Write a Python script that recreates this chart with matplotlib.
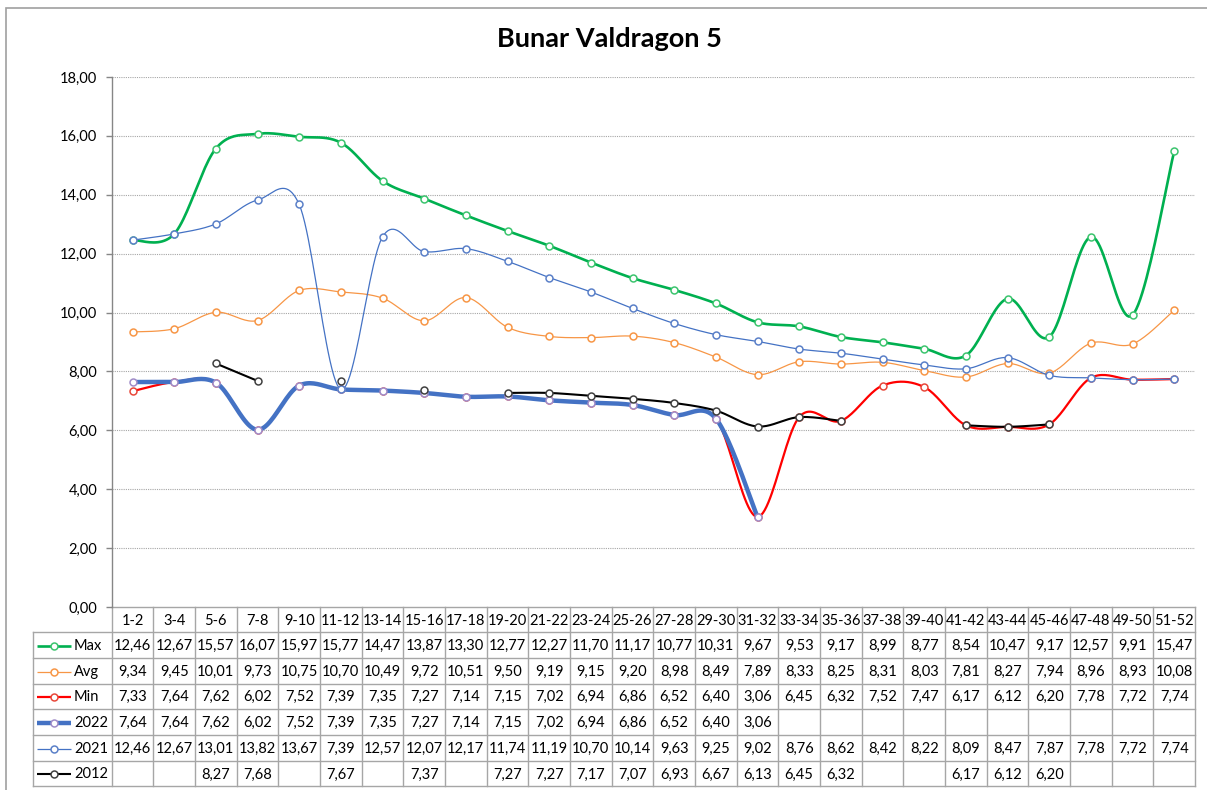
import numpy as np
import matplotlib
matplotlib.use("Agg")
import matplotlib.pyplot as plt

# ---------------- data ----------------
categories = ["1-2", "3-4", "5-6", "7-8", "9-10", "11-12", "13-14", "15-16", "17-18",
              "19-20", "21-22", "23-24", "25-26", "27-28", "29-30", "31-32", "33-34",
              "35-36", "37-38", "39-40", "41-42", "43-44", "45-46", "47-48", "49-50", "51-52"]
max_vals = [12.46, 12.67, 15.57, 16.07, 15.97, 15.77, 14.47, 13.87, 13.30, 12.77, 12.27, 11.70, 11.17,
            10.77, 10.31, 9.67, 9.53, 9.17, 8.99, 8.77, 8.54, 10.47, 9.17, 12.57, 9.91, 15.47]
avg_vals = [9.34, 9.45, 10.01, 9.73, 10.75, 10.70, 10.49, 9.72, 10.51, 9.50, 9.19, 9.15, 9.20,
            8.98, 8.49, 7.89, 8.33, 8.25, 8.31, 8.03, 7.81, 8.27, 7.94, 8.96, 8.93, 10.08]
min_vals = [7.33, 7.64, 7.62, 6.02, 7.52, 7.39, 7.35, 7.27, 7.14, 7.15, 7.02, 6.94, 6.86,
            6.52, 6.40, 3.06, 6.45, 6.32, 7.52, 7.47, 6.17, 6.12, 6.20, 7.78, 7.72, 7.74]
y2022 = [7.64, 7.64, 7.62, 6.02, 7.52, 7.39, 7.35, 7.27, 7.14, 7.15, 7.02, 6.94, 6.86,
         6.52, 6.40, 3.06, None, None, None, None, None, None, None, None, None, None]
y2021 = [12.46, 12.67, 13.01, 13.82, 13.67, 7.39, 12.57, 12.07, 12.17, 11.74, 11.19, 10.70, 10.14,
         9.63, 9.25, 9.02, 8.76, 8.62, 8.42, 8.22, 8.09, 8.47, 7.87, 7.78, 7.72, 7.74]
y2012 = [None, None, 8.27, 7.68, None, 7.67, None, 7.37, None, 7.27, 7.27, 7.17, 7.07,
         6.93, 6.67, 6.13, 6.45, 6.32, None, None, 6.17, 6.12, 6.20, None, None, None]
series_names = ["Max", "Avg", "Min", "2022", "2021", "2012"]
title = "Bunar Valdragon 5"
y_ticks = [0, 2, 4, 6, 8, 10, 12, 14, 16, 18]

series_data = [max_vals, avg_vals, min_vals, y2022, y2021, y2012]

# ---------------- styles ----------------
styles = [
    dict(color="#00B050", lw=1.9, mec="#3cc46e"),
    dict(color="#F79646", lw=0.9, mec="#F79646"),
    dict(color="#FF0000", lw=1.6, mec="#e8483a"),
    dict(color="#4472C4", lw=3.2, mec="#a08cc8"),
    dict(color="#4472C4", lw=0.9, mec="#5b80c8"),
    dict(color="#000000", lw=1.5, mec="#404040"),
]

FONT = "Lato"
TXT = "#000000"
GRID = "#a6a6a6"
W, H = 1207, 790
L, R = 111.7, 1195.0
TOP, ZERO = 77.0, 607.0
n = len(categories)
cw = (R - L) / n
row_tops = [607.0, 632.3, 657.9, 683.5, 709.2, 734.9, 760.6, 786.3]


def fmt(v):
    return "" if v is None else f"{v:.2f}".replace(".", ",")


def segments(vals):
    segs, cur = [], []
    for i, v in enumerate(vals):
        if v is None:
            if cur:
                segs.append(cur)
            cur = []
        else:
            cur.append((i, v))
    if cur:
        segs.append(cur)
    return segs


def smooth(pts, nstep=24):
    p = np.array(pts, dtype=float)
    if len(p) < 2:
        return p[:, 0], p[:, 1]
    out = [p[0]]
    t = np.linspace(0, 1, nstep)[1:, None]
    for i in range(len(p) - 1):
        p0 = p[i - 1] if i > 0 else p[i]
        p1, p2 = p[i], p[i + 1]
        p3 = p[i + 2] if i + 2 < len(p) else p[i + 1]
        c1 = p1 + (p2 - p0) / 6.0
        c2 = p2 - (p3 - p1) / 6.0
        b = ((1 - t) ** 3) * p1 + 3 * ((1 - t) ** 2) * t * c1 + 3 * (1 - t) * t ** 2 * c2 + t ** 3 * p2
        out.extend(b)
    out = np.array(out)
    return out[:, 0], out[:, 1]


fig = plt.figure(figsize=(W / 100, H / 100), dpi=100)
fig.patch.set_facecolor("white")

# overlay in pixel coordinates for frame / table
ov = fig.add_axes([0, 0, 1, 1], zorder=0)
ov.set_xlim(0, W)
ov.set_ylim(H, 0)
ov.axis("off")
ov.patch.set_visible(False)

# chart border
ov.plot([6, 6, W + 5], [H + 5, 8, 8], color="#a0a0a0", lw=1.2, solid_joinstyle="miter")

# title
ov.text(609, 39, title, ha="center", va="center", fontsize=19.5,
        fontweight="bold", family=FONT, color="#000000")

# main axes
ax = fig.add_axes([L / W, 1 - ZERO / H, (R - L) / W, (ZERO - TOP) / H], zorder=2)
ax.patch.set_visible(False)
ax.set_xlim(-0.5, n - 0.5)
ax.set_ylim(0, 18)
for s in ["top", "right", "bottom"]:
    ax.spines[s].set_visible(False)
ax.spines["left"].set_color("#868686")
ax.spines["left"].set_linewidth(1.0)
ax.set_xticks([])
ax.set_yticks(y_ticks)
ax.set_yticklabels([fmt(v) for v in y_ticks], family=FONT, fontsize=10.5, color=TXT)
ax.tick_params(axis="y", direction="out", length=4, width=1, color="#868686", pad=6.5)
for yv in y_ticks[1:]:
    ax.axhline(yv, color=GRID, lw=0.8, ls=(0, (1, 1)), zorder=0)

# series
for k, (vals, st) in enumerate(zip(series_data, styles)):
    for seg in segments(vals):
        xs, ys = smooth(seg)
        if len(seg) > 1:
            ax.plot(xs, ys, color=st["color"], lw=st["lw"], solid_capstyle="round",
                    zorder=3 + k, clip_on=False)
        px = [q[0] for q in seg]
        py = [q[1] for q in seg]
        ax.plot(px, py, ls="none", marker="o", ms=5.0, mfc="white", mec=st["mec"],
                mew=1.1, zorder=3 + k + 0.5, clip_on=False)

# ---------------- data table ----------------
lc = "#a6a6a6"
tlw = 1.0
table_bottom = row_tops[-1]
ov.plot([L, R], [row_tops[0], row_tops[0]], color=lc, lw=tlw)
for yy in row_tops[1:]:
    ov.plot([33, R], [yy, yy], color=lc, lw=tlw)
for i in range(n + 1):
    xx = L + i * cw
    ov.plot([xx, xx], [row_tops[0], table_bottom], color=lc, lw=tlw)
ov.plot([33, 33], [row_tops[1], table_bottom], color=lc, lw=tlw)

for i, c in enumerate(categories):
    ov.text(L + (i + 0.5) * cw, (row_tops[0] + row_tops[1]) / 2 + 1, c, ha="center", va="center",
            family=FONT, fontsize=10.5, color=TXT)

for r, (name, vals, st) in enumerate(zip(series_names, series_data, styles)):
    yc = (row_tops[r + 1] + row_tops[r + 2]) / 2 + 1
    ov.plot([37, 71], [yc, yc], color=st["color"], lw=st["lw"], solid_capstyle="butt")
    ov.plot([54], [yc], ls="none", marker="o", ms=5.0, mfc="white", mec=st["mec"], mew=1.1)
    ov.text(74, yc, name, ha="left", va="center", family=FONT, fontsize=10.5, color=TXT)
    for i, v in enumerate(vals):
        if v is not None:
            ov.text(L + (i + 0.5) * cw, yc, fmt(v), ha="center", va="center",
                    family=FONT, fontsize=10.5, color=TXT)

fig.savefig("out.png", dpi=100, facecolor="white")
